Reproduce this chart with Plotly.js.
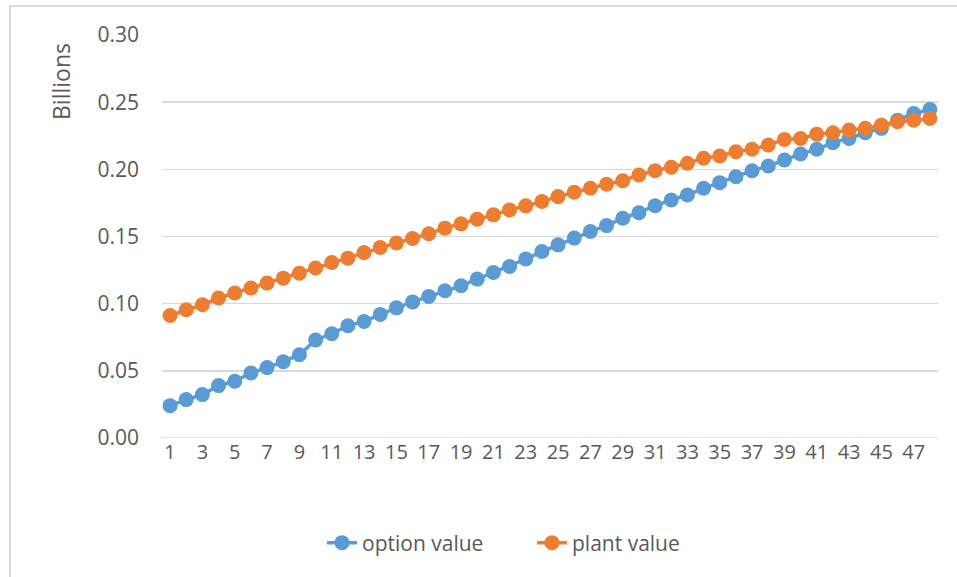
<!DOCTYPE html>
<html>
<head>
<meta charset="utf-8">
<script src="https://cdn.plot.ly/plotly-3.0.1.min.js"></script>
<style>
  html, body { margin: 0; padding: 0; background: #ffffff; }
  #wrap { position: relative; width: 957px; height: 577px; overflow: hidden; }
  #chart { position: absolute; left: 0; top: 0; width: 957px; height: 577px; }
  #frame {
    position: absolute; left: 9px; top: 5px; width: 960px; height: 580px;
    border-left: 2px solid #D9D9D9; border-top: 2px solid #D9D9D9;
    pointer-events: none;
  }
</style>
</head>
<body>
<div id="wrap">
  <div id="chart"></div>
  <div id="frame"></div>
</div>
<script>
// Periods 1..48
const periods = [];
for (let i = 1; i <= 48; i++) periods.push(i);

// Values in billions
const optionValue = [
  0.0241, 0.0286, 0.0323, 0.0390, 0.0422, 0.0484, 0.0524, 0.0568, 0.0620, 0.0730,
  0.0776, 0.0836, 0.0868, 0.0920, 0.0969, 0.1013, 0.1054, 0.1096, 0.1133, 0.1183,
  0.1232, 0.1277, 0.1332, 0.1388, 0.1438, 0.1488, 0.1537, 0.1581, 0.1636, 0.1677,
  0.1729, 0.1772, 0.1809, 0.1859, 0.1901, 0.1945, 0.1990, 0.2025, 0.2069, 0.2114,
  0.2149, 0.2198, 0.2230, 0.2272, 0.2305, 0.2366, 0.2416, 0.2446
];
const plantValue = [
  0.0912, 0.0955, 0.0992, 0.1042, 0.1079, 0.1116, 0.1153, 0.1190, 0.1227, 0.1265,
  0.1306, 0.1339, 0.1380, 0.1418, 0.1452, 0.1485, 0.1520, 0.1562, 0.1594, 0.1629,
  0.1661, 0.1698, 0.1728, 0.1760, 0.1797, 0.1830, 0.1859, 0.1889, 0.1915, 0.1958,
  0.1990, 0.2015, 0.2045, 0.2082, 0.2099, 0.2131, 0.2149, 0.2181, 0.2223, 0.2230,
  0.2262, 0.2272, 0.2292, 0.2305, 0.2329, 0.2354, 0.2366, 0.2379
];
const seriesNames = ['option value', 'plant value'];
const xTickVals = periods.filter(p => p % 2 === 1);
const yTickVals = [0, 0.05, 0.10, 0.15, 0.20, 0.25, 0.30];

const FONT = 'Open Sans, Lato, sans-serif';
const TXT = '#595959';
const GRID = '#D9D9D9';

const traces = [
  {
    x: periods, y: optionValue, name: seriesNames[0], type: 'scatter', mode: 'lines+markers',
    line: { color: '#5B9BD5', width: 3.5 },
    marker: { color: '#5B9BD5', size: 15 }
  },
  {
    x: periods, y: plantValue, name: seriesNames[1], type: 'scatter', mode: 'lines+markers',
    line: { color: '#ED7D31', width: 3.5 },
    marker: { color: '#ED7D31', size: 15 }
  }
];

const layout = {
  width: 957, height: 577,
  margin: { l: 162, r: 19, t: 35, b: 139 },
  paper_bgcolor: '#ffffff', plot_bgcolor: '#ffffff',
  font: { family: FONT, size: 21, color: TXT },
  showlegend: true,
  xaxis: {
    range: [0.5, 48.5],
    tickmode: 'array', tickvals: xTickVals, ticktext: xTickVals.map(String),
    showgrid: false, zeroline: false,
    showline: false, ticks: '',
    tickfont: { family: FONT, size: 20, color: TXT },
    fixedrange: true
  },
  yaxis: {
    range: [0, 0.30],
    tickmode: 'array', tickvals: yTickVals, ticktext: yTickVals.map(v => v.toFixed(2)),
    showgrid: true, gridcolor: GRID, gridwidth: 1.5,
    zeroline: false, showline: false, ticks: '',
    ticklabelstandoff: 22,
    tickfont: { family: FONT, size: 21, color: TXT },
    fixedrange: true
  },
  shapes: [
    { type: 'line', xref: 'paper', yref: 'y', x0: 0, x1: 1, y0: 0, y1: 0,
      line: { color: GRID, width: 1.5 } }
  ],
  annotations: [
    { text: 'Billions', xref: 'paper', yref: 'paper',
      x: (61 - 162) / 776, y: (438 - 81) / 403, xanchor: 'center', yanchor: 'middle',
      textangle: -90, showarrow: false, font: { family: FONT, size: 23, color: TXT } }
  ],
  legend: {
    orientation: 'h', x: (532 - 162) / 776, xanchor: 'center',
    y: -(543 - 438) / 403, yanchor: 'middle',
    font: { family: FONT, size: 21, color: TXT },
    bgcolor: 'rgba(0,0,0,0)', itemwidth: 30,
    entrywidth: 165, entrywidthmode: 'pixels'
  }
};

Plotly.newPlot('chart', traces, layout, { displayModeBar: false, staticPlot: true });
</script>
</body>
</html>
